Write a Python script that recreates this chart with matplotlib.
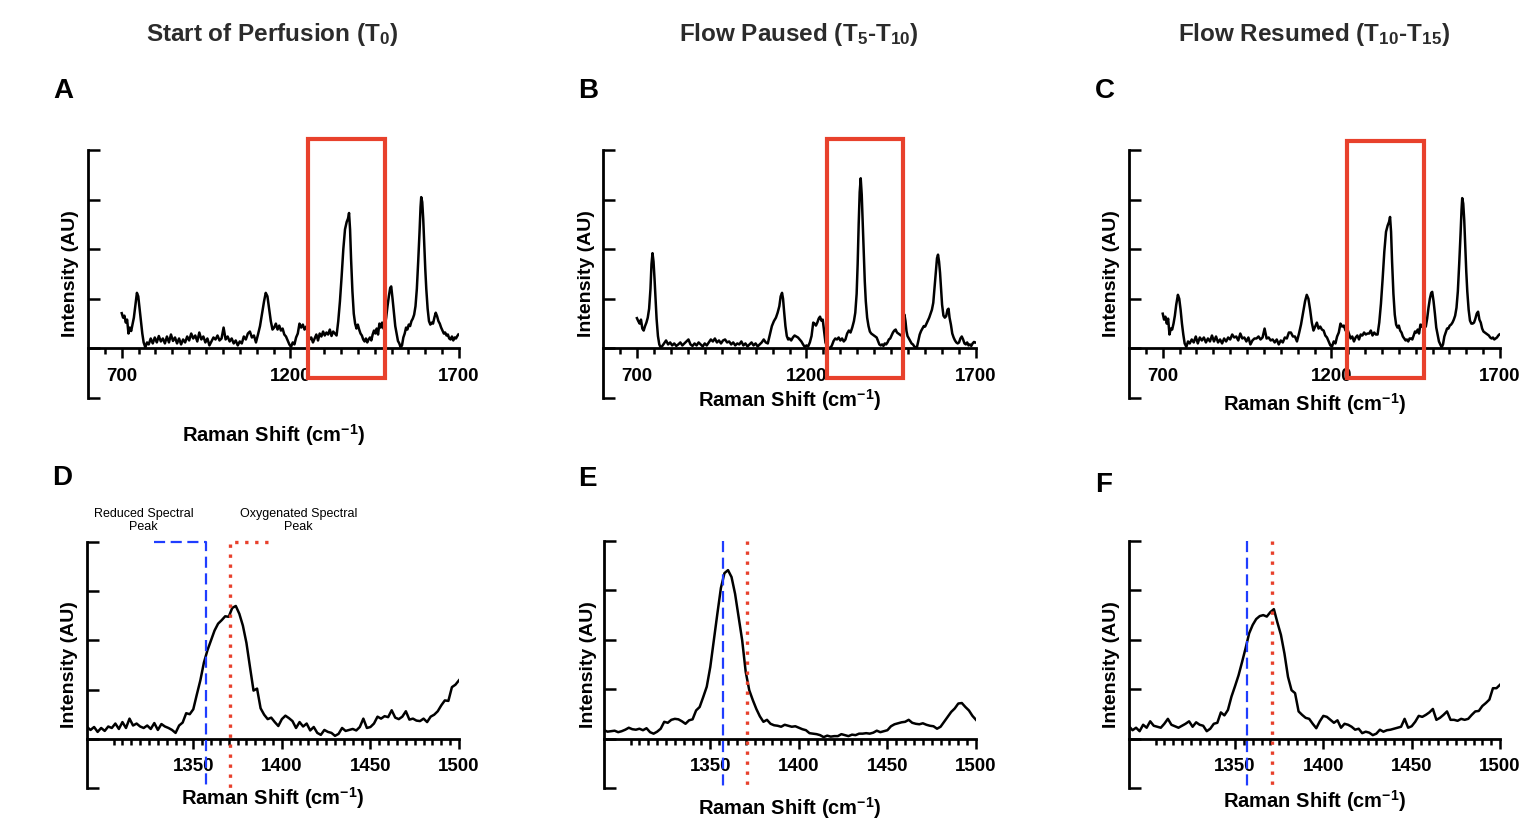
import matplotlib
matplotlib.use('Agg')
import matplotlib.pyplot as plt
from matplotlib.patches import Rectangle
from matplotlib.ticker import FixedLocator

plt.rcParams['font.family'] = ['Liberation Sans', 'DejaVu Sans']
plt.rcParams['font.weight'] = 'bold'
plt.rcParams['axes.labelweight'] = 'bold'
plt.rcParams['mathtext.default'] = 'regular'

# ---- full spectra (700-1700 cm-1), intensities in tick units ----
full_shift = [
    700, 704, 708, 712, 716, 720, 724, 728, 732, 736,
    740, 745, 749, 753, 757, 761, 765, 770, 775, 780,
    786, 792, 798, 804, 810, 816, 822, 828, 834, 840,
    846, 852, 858, 864, 870, 876, 882, 888, 894, 900,
    906, 912, 918, 924, 930, 936, 942, 948, 954, 960,
    966, 972, 978, 984, 990, 996, 1002, 1008, 1014, 1020,
    1026, 1032, 1038, 1044, 1050, 1056, 1062, 1068, 1074, 1080,
    1086, 1092, 1098, 1104, 1110, 1116, 1122, 1127, 1132, 1137,
    1142, 1147, 1152, 1157, 1162, 1167, 1172, 1177, 1182, 1187,
    1192, 1197, 1202, 1207, 1212, 1217, 1222, 1227, 1232, 1237,
    1242, 1247, 1252, 1257, 1262, 1267, 1272, 1277, 1282, 1287,
    1292, 1297, 1302, 1307, 1312, 1317, 1322, 1327, 1332, 1337,
    1342, 1347, 1352, 1357, 1362, 1367, 1371, 1374, 1377, 1380,
    1384, 1388, 1392, 1396, 1400, 1404, 1408, 1412, 1416, 1420,
    1424, 1428, 1432, 1436, 1440, 1444, 1448, 1452, 1456, 1460,
    1464, 1468, 1472, 1476, 1480, 1484, 1488, 1492, 1496, 1499,
    1503, 1507, 1511, 1515, 1519, 1523, 1527, 1531, 1535, 1539,
    1543, 1547, 1551, 1555, 1559, 1563, 1567, 1571, 1575, 1579,
    1583, 1586, 1588, 1591, 1594, 1597, 1600, 1603, 1607, 1611,
    1615, 1619, 1623, 1627, 1631, 1635, 1639, 1643, 1647, 1651,
    1655, 1659, 1663, 1667, 1671, 1675, 1679, 1683, 1687, 1691,
    1695, 1698,
]
start_int = [
    0.71, 0.62, 0.66, 0.52, 0.58, 0.30, 0.42, 0.35, 0.48, 0.62,
    0.85, 1.12, 1.05, 0.80, 0.55, 0.30, 0.12, 0.02, 0.12, 0.08,
    0.20, 0.10, 0.22, 0.12, 0.25, 0.14, 0.20, 0.10, 0.24, 0.12,
    0.28, 0.15, 0.22, 0.10, 0.20, 0.08, 0.18, 0.12, 0.24, 0.16,
    0.30, 0.20, 0.26, 0.14, 0.32, 0.18, 0.24, 0.12, 0.20, 0.06,
    0.14, 0.22, 0.18, 0.26, 0.16, 0.20, 0.42, 0.18, 0.24, 0.14,
    0.20, 0.10, 0.16, 0.06, 0.14, 0.10, 0.24, 0.18, 0.30, 0.34,
    0.22, 0.26, 0.12, 0.28, 0.45, 0.70, 0.95, 1.12, 1.05, 0.80,
    0.55, 0.38, 0.42, 0.50, 0.38, 0.46, 0.36, 0.40, 0.28, 0.24,
    0.16, 0.08, 0.03, 0.12, 0.08, 0.22, 0.30, 0.50, 0.42, 0.48,
    0.38, 0.44, 0.32, 0.18, 0.22, 0.12, 0.20, 0.28, 0.16, 0.30,
    0.24, 0.34, 0.26, 0.32, 0.28, 0.38, 0.25, 0.34, 0.30, 0.26,
    0.55, 0.95, 1.45, 2.00, 2.40, 2.55, 2.62, 2.73, 2.40, 1.80,
    1.15, 0.70, 0.50, 0.40, 0.48, 0.38, 0.30, 0.26, 0.18, 0.14,
    0.20, 0.12, 0.18, 0.22, 0.16, 0.28, 0.36, 0.30, 0.40, 0.28,
    0.50, 0.42, 0.52, 0.40, 0.45, 0.62, 0.85, 1.05, 1.22, 1.25,
    1.00, 0.72, 0.45, 0.30, 0.15, 0.10, 0.02, 0.06, 0.22, 0.30,
    0.42, 0.38, 0.48, 0.45, 0.55, 0.60, 0.68, 0.85, 1.20, 1.75,
    2.35, 2.85, 3.05, 2.95, 2.60, 2.10, 1.60, 1.20, 0.80, 0.55,
    0.48, 0.52, 0.50, 0.62, 0.72, 0.65, 0.55, 0.50, 0.42, 0.36,
    0.30, 0.32, 0.26, 0.28, 0.20, 0.18, 0.24, 0.16, 0.22, 0.20,
    0.25, 0.28,
]
resumed_int = [
    0.70, 0.58, 0.64, 0.50, 0.60, 0.28, 0.40, 0.38, 0.50, 0.66,
    0.88, 1.08, 1.00, 0.78, 0.50, 0.28, 0.10, 0.03, 0.14, 0.10,
    0.18, 0.12, 0.24, 0.10, 0.22, 0.16, 0.22, 0.12, 0.20, 0.14,
    0.26, 0.14, 0.24, 0.12, 0.18, 0.10, 0.20, 0.14, 0.22, 0.18,
    0.28, 0.22, 0.24, 0.16, 0.30, 0.20, 0.22, 0.14, 0.22, 0.08,
    0.16, 0.20, 0.20, 0.24, 0.18, 0.22, 0.40, 0.20, 0.22, 0.16,
    0.18, 0.12, 0.18, 0.08, 0.16, 0.12, 0.22, 0.20, 0.32, 0.32,
    0.24, 0.24, 0.14, 0.30, 0.48, 0.72, 0.95, 1.08, 1.00, 0.78,
    0.52, 0.36, 0.44, 0.52, 0.40, 0.44, 0.38, 0.36, 0.26, 0.22,
    0.14, 0.06, 0.04, 0.14, 0.10, 0.24, 0.32, 0.50, 0.44, 0.46,
    0.36, 0.40, 0.30, 0.20, 0.24, 0.14, 0.22, 0.26, 0.18, 0.28,
    0.26, 0.32, 0.28, 0.30, 0.30, 0.36, 0.26, 0.32, 0.28, 0.28,
    0.52, 0.90, 1.40, 1.95, 2.35, 2.48, 2.55, 2.65, 2.35, 1.75,
    1.10, 0.68, 0.48, 0.42, 0.46, 0.36, 0.32, 0.24, 0.20, 0.16,
    0.18, 0.14, 0.20, 0.20, 0.18, 0.26, 0.34, 0.32, 0.38, 0.30,
    0.48, 0.44, 0.50, 0.42, 0.44, 0.60, 0.82, 1.00, 1.12, 1.14,
    0.95, 0.70, 0.42, 0.28, 0.14, 0.08, 0.02, 0.08, 0.24, 0.32,
    0.40, 0.40, 0.46, 0.48, 0.52, 0.58, 0.66, 0.82, 1.15, 1.70,
    2.30, 2.80, 3.03, 2.92, 2.58, 2.05, 1.55, 1.15, 0.78, 0.56,
    0.50, 0.50, 0.52, 0.60, 0.70, 0.74, 0.58, 0.52, 0.40, 0.34,
    0.32, 0.30, 0.28, 0.26, 0.22, 0.20, 0.22, 0.18, 0.20, 0.22,
    0.26, 0.28,
]
paused_shift = [
    700, 704, 708, 712, 716, 720, 724, 728, 732, 736,
    740, 743, 746, 749, 752, 755, 758, 762, 766, 770,
    775, 780, 786, 792, 798, 804, 810, 816, 822, 828,
    834, 840, 846, 852, 858, 864, 870, 876, 882, 888,
    894, 900, 906, 912, 918, 924, 930, 936, 942, 948,
    954, 960, 966, 972, 978, 984, 990, 996, 1002, 1008,
    1014, 1020, 1026, 1032, 1038, 1044, 1050, 1056, 1062, 1068,
    1074, 1080, 1086, 1092, 1098, 1104, 1110, 1115, 1120, 1124,
    1128, 1131, 1134, 1138, 1142, 1146, 1150, 1155, 1160, 1165,
    1170, 1175, 1180, 1185, 1190, 1195, 1200, 1205, 1210, 1215,
    1220, 1224, 1228, 1232, 1236, 1240, 1244, 1248, 1252, 1256,
    1260, 1265, 1270, 1275, 1280, 1285, 1290, 1295, 1300, 1305,
    1310, 1315, 1320, 1325, 1330, 1335, 1340, 1344, 1348, 1351,
    1354, 1357, 1360, 1363, 1366, 1369, 1372, 1375, 1379, 1383,
    1387, 1391, 1395, 1399, 1403, 1407, 1411, 1415, 1419, 1423,
    1427, 1431, 1435, 1439, 1443, 1447, 1451, 1455, 1459, 1463,
    1467, 1471, 1475, 1479, 1483, 1486, 1489, 1492, 1495, 1498,
    1502, 1506, 1510, 1514, 1518, 1522, 1526, 1530, 1534, 1538,
    1542, 1546, 1550, 1554, 1558, 1562, 1566, 1570, 1574, 1578,
    1582, 1585, 1588, 1591, 1594, 1597, 1600, 1604, 1608, 1612,
    1616, 1619, 1622, 1626, 1630, 1634, 1638, 1642, 1646, 1650,
    1654, 1658, 1662, 1666, 1670, 1674, 1678, 1682, 1686, 1690,
    1694, 1698,
]
paused_int = [
    0.61, 0.55, 0.50, 0.58, 0.40, 0.36, 0.45, 0.52, 0.62, 0.80,
    1.20, 1.70, 1.92, 1.75, 1.40, 1.00, 0.60, 0.25, 0.08, 0.02,
    0.05, 0.10, 0.16, 0.08, 0.12, 0.06, 0.10, 0.05, 0.08, 0.12,
    0.06, 0.10, 0.14, 0.18, 0.08, 0.05, 0.10, 0.06, 0.12, 0.08,
    0.04, 0.10, 0.06, 0.12, 0.18, 0.14, 0.20, 0.12, 0.16, 0.10,
    0.16, 0.18, 0.12, 0.14, 0.08, 0.12, 0.06, 0.10, 0.08, 0.14,
    0.06, 0.10, 0.04, 0.08, 0.12, 0.06, 0.10, 0.04, 0.08, 0.12,
    0.18, 0.12, 0.10, 0.28, 0.45, 0.55, 0.62, 0.72, 0.85, 1.05,
    1.12, 1.00, 0.75, 0.45, 0.25, 0.18, 0.20, 0.16, 0.22, 0.26,
    0.24, 0.22, 0.18, 0.14, 0.08, 0.03, 0.06, 0.04, 0.12, 0.25,
    0.52, 0.50, 0.46, 0.52, 0.60, 0.64, 0.56, 0.58, 0.35, 0.12,
    0.05, 0.02, 0.00, 0.06, 0.15, 0.20, 0.18, 0.22, 0.16, 0.20,
    0.14, 0.18, 0.30, 0.36, 0.32, 0.42, 0.55, 0.72, 1.10, 1.70,
    2.50, 3.15, 3.43, 3.10, 2.50, 1.85, 1.35, 0.95, 0.62, 0.45,
    0.34, 0.30, 0.28, 0.26, 0.24, 0.22, 0.15, 0.08, 0.06, 0.08,
    0.05, 0.10, 0.08, 0.12, 0.18, 0.20, 0.26, 0.32, 0.36, 0.38,
    0.32, 0.30, 0.28, 0.26, 0.30, 0.45, 0.68, 0.55, 0.35, 0.25,
    0.20, 0.15, 0.10, 0.08, 0.04, 0.02, 0.03, 0.15, 0.28, 0.35,
    0.40, 0.45, 0.44, 0.50, 0.56, 0.62, 0.70, 0.78, 0.92, 1.25,
    1.58, 1.82, 1.89, 1.75, 1.52, 1.20, 0.88, 0.66, 0.62, 0.65,
    0.78, 0.80, 0.62, 0.48, 0.30, 0.22, 0.16, 0.12, 0.10, 0.12,
    0.20, 0.24, 0.18, 0.10, 0.08, 0.12, 0.06, 0.08, 0.05, 0.10,
    0.13, 0.12,
]

# ---- zoomed spectra (1290-1500 cm-1) ----
zoom_shift = [
    1290, 1292, 1294, 1296, 1298, 1300, 1302, 1304, 1306, 1308,
    1310, 1312, 1314, 1316, 1318, 1320, 1322, 1324, 1326, 1328,
    1330, 1332, 1334, 1336, 1338, 1340, 1342, 1344, 1346, 1348,
    1350, 1352, 1354, 1356, 1358, 1360, 1362, 1364, 1366, 1368,
    1370, 1372, 1374, 1376, 1378, 1380, 1382, 1384, 1386, 1388,
    1390, 1392, 1394, 1396, 1398, 1400, 1402, 1404, 1406, 1408,
    1410, 1412, 1414, 1416, 1418, 1420, 1422, 1424, 1426, 1428,
    1430, 1432, 1434, 1436, 1438, 1440, 1442, 1444, 1446, 1448,
    1450, 1452, 1454, 1456, 1458, 1460, 1462, 1464, 1466, 1468,
    1470, 1472, 1474, 1476, 1478, 1480, 1482, 1484, 1486, 1488,
    1490, 1492, 1494, 1496, 1498, 1500,
]
start_zoom_int = [
    0.24, 0.18, 0.24, 0.14, 0.22, 0.16, 0.25, 0.22, 0.31, 0.20,
    0.34, 0.22, 0.41, 0.27, 0.31, 0.25, 0.22, 0.27, 0.20, 0.32,
    0.18, 0.30, 0.25, 0.22, 0.18, 0.12, 0.27, 0.33, 0.52, 0.50,
    0.60, 0.90, 1.19, 1.55, 1.80, 2.00, 2.20, 2.34, 2.41, 2.49,
    2.48, 2.66, 2.70, 2.54, 2.30, 1.95, 1.46, 0.98, 1.02, 0.62,
    0.49, 0.40, 0.43, 0.34, 0.26, 0.40, 0.47, 0.42, 0.36, 0.22,
    0.34, 0.25, 0.31, 0.17, 0.24, 0.12, 0.08, 0.18, 0.14, 0.12,
    0.06, 0.10, 0.22, 0.16, 0.18, 0.20, 0.17, 0.24, 0.41, 0.22,
    0.24, 0.31, 0.45, 0.41, 0.46, 0.44, 0.58, 0.43, 0.40, 0.45,
    0.56, 0.39, 0.41, 0.37, 0.36, 0.41, 0.34, 0.45, 0.49, 0.56,
    0.68, 0.78, 0.77, 1.05, 1.10, 1.19,
]
paused_zoom_int = [
    0.17, 0.14, 0.15, 0.16, 0.13, 0.15, 0.18, 0.22, 0.19, 0.18,
    0.20, 0.17, 0.21, 0.13, 0.10, 0.14, 0.20, 0.34, 0.32, 0.38,
    0.40, 0.39, 0.35, 0.30, 0.37, 0.39, 0.57, 0.64, 0.84, 1.05,
    1.45, 1.99, 2.53, 3.05, 3.35, 3.41, 3.27, 2.93, 2.46, 1.99,
    1.35, 0.98, 0.78, 0.60, 0.45, 0.34, 0.38, 0.30, 0.27, 0.26,
    0.24, 0.28, 0.26, 0.24, 0.25, 0.22, 0.19, 0.17, 0.11, 0.10,
    0.09, 0.07, 0.03, 0.06, 0.04, 0.05, 0.05, 0.09, 0.07, 0.05,
    0.08, 0.07, 0.10, 0.10, 0.11, 0.10, 0.12, 0.16, 0.13, 0.15,
    0.17, 0.25, 0.29, 0.31, 0.33, 0.34, 0.38, 0.32, 0.30, 0.29,
    0.31, 0.28, 0.26, 0.25, 0.20, 0.24, 0.34, 0.44, 0.54, 0.61,
    0.71, 0.72, 0.64, 0.57, 0.46, 0.38,
]
resumed_zoom_int = [
    0.25, 0.17, 0.22, 0.15, 0.28, 0.22, 0.35, 0.26, 0.24, 0.22,
    0.30, 0.40, 0.28, 0.25, 0.22, 0.26, 0.30, 0.35, 0.24, 0.33,
    0.28, 0.26, 0.15, 0.20, 0.30, 0.32, 0.53, 0.47, 0.58, 0.85,
    1.06, 1.28, 1.55, 1.83, 2.13, 2.30, 2.42, 2.48, 2.50, 2.47,
    2.56, 2.62, 2.35, 2.10, 1.72, 1.25, 0.98, 0.92, 0.55, 0.48,
    0.42, 0.40, 0.30, 0.21, 0.35, 0.46, 0.44, 0.38, 0.32, 0.37,
    0.22, 0.30, 0.28, 0.24, 0.18, 0.20, 0.11, 0.14, 0.12, 0.07,
    0.10, 0.18, 0.14, 0.17, 0.18, 0.20, 0.22, 0.24, 0.40, 0.22,
    0.25, 0.34, 0.46, 0.44, 0.48, 0.53, 0.60, 0.38, 0.42, 0.48,
    0.55, 0.38, 0.38, 0.36, 0.40, 0.38, 0.40, 0.48, 0.55, 0.56,
    0.66, 0.72, 0.79, 1.02, 1.02, 1.09,
]

# highlighted region drawn on the full spectra
box_left = [1252, 1261, 1246]
box_right = [1480, 1485, 1475]
box_bottom = [-0.59, -0.59, -0.60]
box_top = [4.23, 4.23, 4.19]

reduced_peak = 1357
oxygenated_peak = 1371

titles = ['Start of Perfusion (T$_{0}$)', 'Flow Paused (T$_{5}$-T$_{10}$)',
          'Flow Resumed (T$_{10}$-T$_{15}$)']
letters = ['A', 'B', 'C', 'D', 'E', 'F']

BLACK = '#000000'
RED = '#e8412c'
BLUE = '#1f3dff'
W, H = 1528, 824

fig = plt.figure(figsize=(W / 100, H / 100), dpi=100)


def px_axes(left, top, right, bottom):
    return fig.add_axes([left / W, 1 - bottom / H, (right - left) / W, (bottom - top) / H])


def style(ax, xlim, majors, minors):
    ax.set_xlim(*xlim)
    ax.set_ylim(-1, 4)
    for s in ['top', 'right']:
        ax.spines[s].set_visible(False)
    ax.spines['bottom'].set_position(('data', 0))
    ax.spines['left'].set_linewidth(2)
    ax.spines['bottom'].set_linewidth(2)
    ax.set_yticks([-1, 0, 1, 2, 3, 4])
    ax.set_yticklabels([])
    ax.tick_params(axis='y', direction='in', length=8.5, width=1.8)
    ax.xaxis.set_major_locator(FixedLocator(majors))
    ax.xaxis.set_minor_locator(FixedLocator(minors))
    ax.tick_params(axis='x', which='major', direction='out', length=7, width=1.8,
                   labelsize=13.5, pad=7)
    ax.tick_params(axis='x', which='minor', direction='out', length=4.5, width=1.8)
    ax.set_ylabel('Intensity (AU)', fontsize=14, va='center')


# top row: full spectra
top_axes = [px_axes(88, 150, 459, 398), px_axes(603, 150, 976, 398),
            px_axes(1129, 150, 1500, 398)]
top_x = [full_shift, paused_shift, full_shift]
top_y = [start_int, paused_int, resumed_int]
top_xlabel_y = [-0.149, -0.008, -0.024]
top_ylabel_x = [-0.047, -0.043, -0.046]
full_minor = [650, 750, 800, 850, 900, 950, 1000, 1050, 1100, 1150,
              1250, 1300, 1350, 1400, 1450, 1500, 1550, 1600, 1650]
for i, ax in enumerate(top_axes):
    style(ax, (600, 1700), [700, 1200, 1700], full_minor)
    ax.plot(top_x[i], top_y[i], color=BLACK, lw=1.8)
    ax.add_patch(Rectangle((box_left[i], box_bottom[i]), box_right[i] - box_left[i],
                           box_top[i] - box_bottom[i], fill=False, ec=RED, lw=3,
                           clip_on=False, zorder=5))
    ax.set_xlabel('Raman Shift (cm$^{-1}$)', fontsize=14.5, va='center')
    ax.xaxis.set_label_coords(0.5, top_xlabel_y[i])
    ax.yaxis.set_label_coords(top_ylabel_x[i], 0.5)

# bottom row: zoomed region
bot_axes = [px_axes(87, 542, 459, 788), px_axes(604, 541, 976, 788),
            px_axes(1129, 541, 1500, 788)]
bot_y = [start_zoom_int, paused_zoom_int, resumed_zoom_int]
bot_xlabel_y = [-0.041, -0.081, -0.053]
bot_ylabel_x = [-0.046, -0.043, -0.046]
zoom_minor = [v for v in range(1305, 1500, 5) if v % 50 != 0]
for i, ax in enumerate(bot_axes):
    style(ax, (1290, 1500), [1350, 1400, 1450, 1500], zoom_minor)
    ax.plot(zoom_shift, bot_y[i], color=BLACK, lw=1.8, zorder=3)
    if i == 0:
        ax.plot([1328, reduced_peak, reduced_peak], [4, 4, -1], color=BLUE, lw=1.6,
                ls=(0, (5, 2.5)), clip_on=False, zorder=4)
        ax.plot([1392, oxygenated_peak, oxygenated_peak], [4, 4, -1], color=RED, lw=2.4,
                ls=(0, (1, 2.0)), clip_on=False, zorder=4)
        ax.text(1322, 4.44, 'Reduced Spectral\nPeak', ha='center', va='center',
                fontsize=9, fontweight='normal', linespacing=1.1)
        ax.text(1409.5, 4.44, 'Oxygenated Spectral\nPeak', ha='center', va='center',
                fontsize=9, fontweight='normal', linespacing=1.1)
    else:
        ax.plot([reduced_peak, reduced_peak], [4, -1], color=BLUE, lw=1.6,
                ls=(0, (5, 2.5)), clip_on=False, zorder=4)
        ax.plot([oxygenated_peak, oxygenated_peak], [4, -1], color=RED, lw=2.4,
                ls=(0, (1, 2.0)), clip_on=False, zorder=4)
    ax.set_xlabel('Raman Shift (cm$^{-1}$)', fontsize=14.5, va='center')
    ax.xaxis.set_label_coords(0.5, bot_xlabel_y[i])
    ax.yaxis.set_label_coords(bot_ylabel_x[i], 0.5)

# column titles and panel letters
title_x = [272, 799, 1314]
for t, x in zip(titles, title_x):
    fig.text(x / W, 1 - 35 / H, t, ha='center', va='center', fontsize=17.5, color='#2b2b2b')

letter_pos = [(63, 91), (588, 91), (1105, 91), (62, 478), (587, 479), (1104, 485)]
for l, (x, y) in zip(letters, letter_pos):
    fig.text(x / W, 1 - y / H, l, ha='center', va='center', fontsize=20, color=BLACK)

fig.savefig('out.png', dpi=100)
